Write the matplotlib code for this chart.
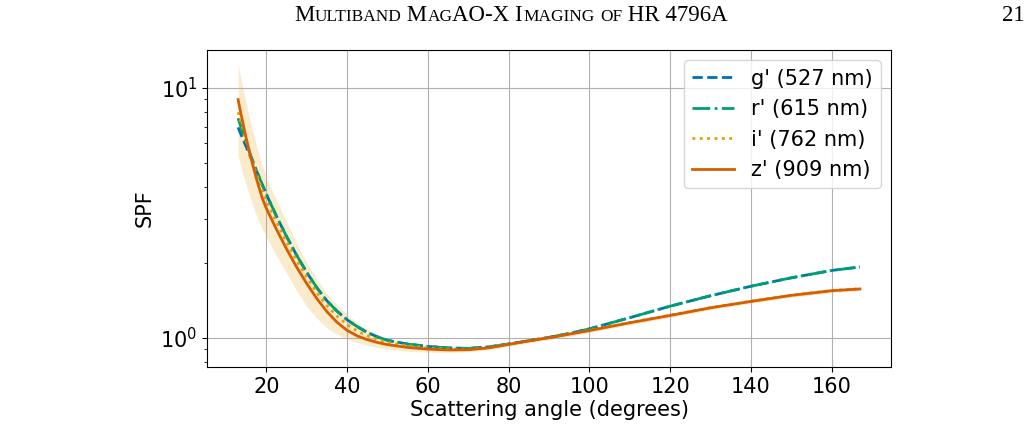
import numpy as np
import matplotlib
matplotlib.use("Agg")
import matplotlib.pyplot as plt

# ---------------- data ----------------
angles = [13, 14, 15, 16, 17.5, 19, 20, 22.5, 25, 27.5, 30, 32.5, 35, 37.5, 40,
          42.5, 45, 47.5, 50, 55, 60, 65, 70, 75, 80, 85, 90, 95, 100,
          110, 120, 130, 140, 150, 160, 167]

spf_g = [6.96, 6.35, 5.82, 5.33, 4.69, 4.10, 3.76, 3.07, 2.547, 2.143, 1.830, 1.589,
         1.408, 1.280, 1.182, 1.110, 1.052, 1.010, 0.978, 0.945, 0.925, 0.912, 0.908,
         0.920, 0.946, 0.975, 1.005, 1.042, 1.087, 1.205, 1.34, 1.475, 1.61, 1.74,
         1.862, 1.923]
spf_r = [7.57, 6.75, 6.04, 5.45, 4.71, 4.10, 3.76, 3.07, 2.547, 2.143, 1.830, 1.589,
         1.408, 1.280, 1.182, 1.110, 1.052, 1.010, 0.978, 0.945, 0.925, 0.912, 0.908,
         0.920, 0.946, 0.975, 1.005, 1.042, 1.087, 1.205, 1.34, 1.475, 1.61, 1.74,
         1.862, 1.923]
spf_i = [8.0, 7.0, 6.14, 5.40, 4.55, 3.88, 3.55, 2.91, 2.42, 2.04, 1.748, 1.52,
         1.346, 1.222, 1.130, 1.066, 1.020, 0.985, 0.958, 0.930, 0.912, 0.902, 0.901,
         0.914, 0.943, 0.973, 1.003, 1.036, 1.072, 1.152, 1.233, 1.322, 1.402, 1.482,
         1.548, 1.573]
spf_z = [8.99, 7.48, 6.31, 5.40, 4.36, 3.62, 3.30, 2.72, 2.27, 1.92, 1.65, 1.437,
         1.274, 1.155, 1.072, 1.019, 0.984, 0.959, 0.940, 0.916, 0.902, 0.895, 0.897,
         0.912, 0.942, 0.973, 1.002, 1.035, 1.07, 1.15, 1.23, 1.32, 1.40, 1.48,
         1.545, 1.57]
band_hi = [12.4, 10.32, 8.71, 7.40, 5.93, 4.85, 4.39, 3.55, 2.91, 2.39, 2.0, 1.717,
           1.503, 1.351, 1.244, 1.151, 1.082, 1.031, 0.987, 0.948, 0.925, 0.913, 0.913,
           0.928, 0.959, 0.991, 1.020, 1.054, 1.089, 1.171, 1.252, 1.344, 1.425, 1.507,
           1.573, 1.598]
band_lo = [5.36, 4.64, 4.10, 3.65, 3.10, 2.72, 2.54, 2.135, 1.816, 1.546, 1.337, 1.20,
           1.096, 1.034, 0.992, 0.958, 0.935, 0.916, 0.901, 0.884, 0.877, 0.875, 0.881,
           0.896, 0.925, 0.955, 0.984, 1.016, 1.051, 1.129, 1.208, 1.296, 1.375, 1.453,
           1.517, 1.542]

labels = ["g' (527 nm)", "r' (615 nm)", "i' (762 nm)", "z' (909 nm)"]
colors = ["#0072B2", "#009E73", "#E69F00", "#D55E00"]
xticks = [20, 40, 60, 80, 100, 120, 140, 160]

header = "Multiband MagAO-X Imaging of HR 4796A"
page = "21"

# ---------------- figure ----------------
W, H = 1032, 445
fig = plt.figure(figsize=(W / 100, H / 100), dpi=100)
ax = fig.add_axes([207 / W, 1 - 367 / H, (891 - 207) / W, (367 - 50) / H])

ax.fill_between(angles, band_lo, band_hi, color="#E69F00", alpha=0.2, lw=0)
ax.plot(angles, spf_g, ls="--", color=colors[0], lw=2, label=labels[0])
ax.plot(angles, spf_r, ls="-.", color=colors[1], lw=2, label=labels[1])
ax.plot(angles, spf_i, ls=":", color=colors[2], lw=2, label=labels[2])
ax.plot(angles, spf_z, ls="-", color=colors[3], lw=2, label=labels[3])

ax.set_yscale("log")
ax.set_ylim(0.765, 14.2)
ax.set_xlim(5.3, 174.7)
ax.set_xticks(xticks)
ax.grid(True, which="major", color="#b0b0b0", lw=0.8)
ax.tick_params(labelsize=15)
ax.set_xlabel("Scattering angle (degrees)", fontsize=15, labelpad=2)
ax.set_ylabel("SPF", fontsize=15)
ax.legend(loc="upper right", fontsize=15)

# ---------------- header in small caps ----------------
def small_caps_runs(text):
    runs = []
    for ch in text:
        big = not ch.islower()
        c = ch.upper()
        if runs and runs[-1][1] == big:
            runs[-1][0] += c
        else:
            runs.append([c, big])
    return runs

fam = "Liberation Serif"
big_sz, small_sz = 16.5, 12.4
renderer = fig.canvas.get_renderer()
runs = small_caps_runs(header)
arts = []
for s, big in runs:
    t = fig.text(0, 0, s, fontsize=big_sz if big else small_sz, family=fam,
                 va="baseline", ha="left", transform=None)
    arts.append(t)
widths = [a.get_window_extent(renderer).width for a in arts]
total = sum(widths)
x0 = 511 - total / 2
ybase = H - 21
for a, w in zip(arts, widths):
    a.set_position((x0, ybase))
    x0 += w
fig.text(1013, ybase, page, fontsize=big_sz, family=fam, va="baseline",
         ha="center", transform=None)

fig.savefig("out.png", dpi=100)
